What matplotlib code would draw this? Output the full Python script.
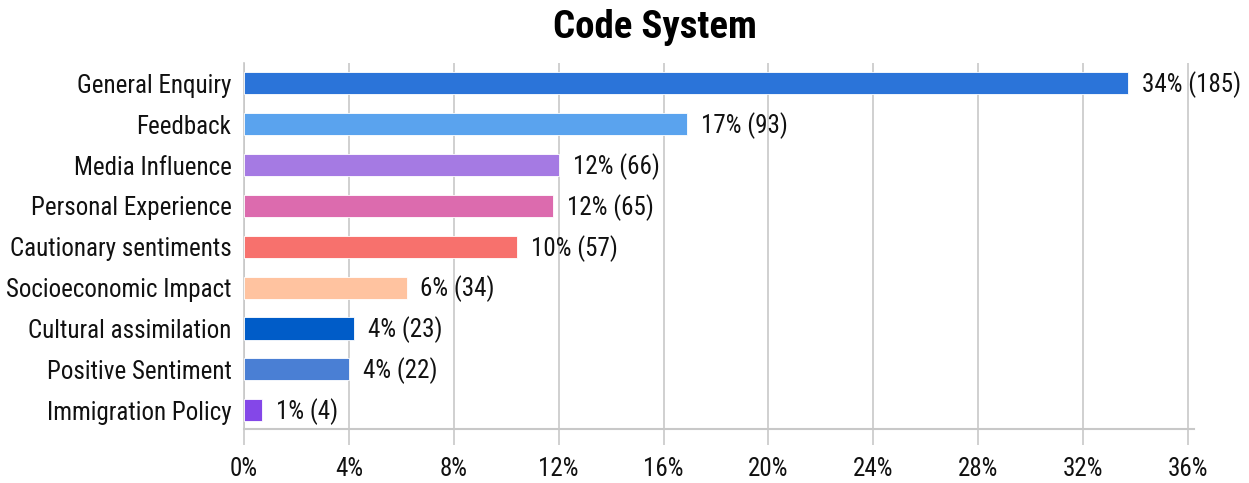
import matplotlib
matplotlib.use("Agg")
import matplotlib.pyplot as plt
from matplotlib import font_manager

categories = ["General Enquiry", "Feedback", "Media Influence", "Personal Experience",
              "Cautionary sentiments", "Socioeconomic Impact", "Cultural assimilation",
              "Positive Sentiment", "Immigration Policy"]
percents = [33.7, 16.9, 12.0, 11.8, 10.4, 6.2, 4.2, 4.0, 0.7]
counts = [185, 93, 66, 65, 57, 34, 23, 22, 4]
pct_labels = ["34%", "17%", "12%", "12%", "10%", "6%", "4%", "4%", "1%"]
xticks = [0, 4, 8, 12, 16, 20, 24, 28, 32, 36]
xtick_labels = ["0%", "4%", "8%", "12%", "16%", "20%", "24%", "28%", "32%", "36%"]
colors = ["#2B74D9", "#5AA3EE", "#A57AE3", "#DC6BAE", "#F7716D",
          "#FFC3A0", "#005CC8", "#4A7FD4", "#8447E8"]

names = {f.name for f in font_manager.fontManager.ttflist}
fam = "Liberation Sans"
narrow = False
for cand in ["Liberation Sans Narrow", "Roboto Condensed", "Open Sans Condensed",
             "Noto Sans Condensed", "DejaVu Sans Condensed"]:
    if cand in names:
        fam = cand
        narrow = True
        break
plt.rcParams['font.family'] = [fam, 'DejaVu Sans']
fs = 18 if narrow else 16

fig = plt.figure(figsize=(12.49, 4.83), dpi=100)
ax = fig.add_axes([244/1249, 1-429/483, (1194-244)/1249, (429-63)/483])

y = list(range(len(categories)))
ax.barh(y, percents, height=0.54, color=colors, edgecolor="white", linewidth=0.6, zorder=3)
for yi, p, pl, c in zip(y, percents, pct_labels, counts):
    ax.annotate(f"{pl} ({c})", xy=(p, yi), xytext=(10, -1), textcoords="offset points",
                ha="left", va="center", fontsize=fs, color="#111111", zorder=4)

ax.set_xlim(0, 36.23)
ax.set_ylim(8.46, -0.5)
ax.set_yticks(y)
ax.set_yticklabels(categories, fontsize=fs, color="#111111")
ax.set_xticks(xticks)
ax.set_xticklabels(xtick_labels, fontsize=fs, color="#111111")
ax.tick_params(axis="y", length=0, pad=9)
ax.tick_params(axis="x", length=11.5, width=1.2, color="#C8C8C8", pad=9)
ax.grid(axis="x", color="#C8C8C8", linewidth=1.2, zorder=0)
for s in ["top", "right"]:
    ax.spines[s].set_visible(False)
ax.spines["left"].set_color("#C8C8C8")
ax.spines["left"].set_linewidth(1.2)
ax.spines["bottom"].set_color("#C8C8C8")
ax.spines["bottom"].set_linewidth(1.5)

fig.text(655/1249, 1-28/483, "Code System", ha="center", va="center",
         fontsize=28 if narrow else 24, fontweight="bold", color="#000000")

fig.savefig("out.png", dpi=100)
